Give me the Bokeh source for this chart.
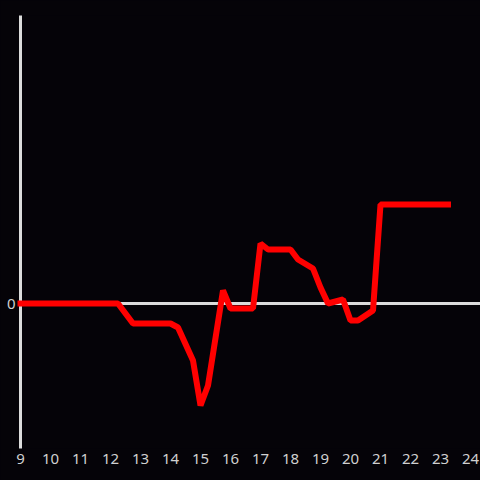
from bokeh.plotting import figure
from bokeh.models import Range1d, Span, FixedTicker
from bokeh.embed import file_html
from bokeh.resources import INLINE

# data (hours of day vs value)
hours = [9.0, 12.25, 12.75, 14.0, 14.25, 14.75, 15.0, 15.25, 15.75, 16.0, 16.75,
         17.0, 17.25, 18.0, 18.25, 18.75, 19.0, 19.25, 19.75, 20.0, 20.25, 20.75,
         21.0, 23.25]
values = [0, 0, -20, -20, -24, -57, -102, -82, 13, -5, -5,
          60, 54, 54, 44, 35, 16, 0, 4, -17, -17, -7,
          99, 99]
xticks = list(range(9, 25))
yticks = [0]

BG = "#050308"
AX = "#dcdcdc"
TXT = "#d0d0d0"

p = figure(width=480, height=480, output_backend="svg", toolbar_location=None,
           x_range=Range1d(9, 24.333), y_range=Range1d(-145, 288),
           background_fill_color=BG, border_fill_color=BG, outline_line_color=None,
           min_border_left=20, min_border_right=0, min_border_top=15, min_border_bottom=32)
p.grid.visible = False

p.xaxis.ticker = FixedTicker(ticks=xticks)
p.xaxis.axis_line_color = None
p.xaxis.major_tick_line_color = None
p.xaxis.minor_tick_line_color = None
p.xaxis.major_tick_out = 0
p.xaxis.major_tick_in = 0
p.xaxis.minor_tick_out = 0
p.xaxis.major_label_text_color = TXT
p.xaxis.major_label_text_font = "Noto Sans"
p.xaxis.major_label_text_font_size = "15px"
p.xaxis.major_label_standoff = 5

p.yaxis.ticker = FixedTicker(ticks=yticks)
p.yaxis.axis_line_color = AX
p.yaxis.axis_line_width = 3
p.yaxis.major_tick_line_color = None
p.yaxis.minor_tick_line_color = None
p.yaxis.major_tick_out = 0
p.yaxis.major_tick_in = 0
p.yaxis.minor_tick_out = 0
p.yaxis.major_label_text_color = TXT
p.yaxis.major_label_text_font = "Noto Sans"
p.yaxis.major_label_text_font_size = "15px"
p.yaxis.major_label_standoff = 5

p.add_layout(Span(location=0, dimension="width", line_color=AX, line_width=3, level="underlay"))
p.line(hours, values, line_color="#ff0000", line_width=6, line_cap="square", level="overlay")

html = file_html(p, INLINE)
html = html.replace("<head>", "<head><style>html,body{margin:0;padding:0;background:%s;}</style>" % BG, 1)
open("out.html", "w").write(html)
